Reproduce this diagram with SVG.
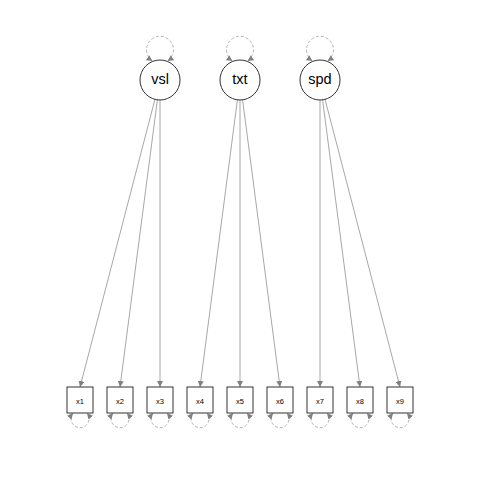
<svg xmlns="http://www.w3.org/2000/svg" width="480" height="480" viewBox="0 0 480 480">
<style>
.lat circle{fill:#fff;stroke:#333;stroke-width:1}
.man rect{fill:#fff;stroke:#333;stroke-width:1}
.lt{font-family:"Liberation Sans",Arial,sans-serif;font-size:14.5px;fill:#000;text-anchor:middle}
.mt{font-family:"Liberation Sans",Arial,sans-serif;font-size:7.5px;fill:#000;text-anchor:middle}
.edge{stroke:#8a8a8a;stroke-width:0.75;fill:none;marker-end:url(#ah)}
.loop{stroke:#a0a0a0;stroke-width:0.8;fill:none;stroke-dasharray:3,2;marker-start:url(#ah);marker-end:url(#ah)}
</style>
<defs>
<marker id="ah" markerUnits="userSpaceOnUse" markerWidth="7" markerHeight="6" refX="6" refY="3" orient="auto-start-reverse" viewBox="0 0 7 6">
<path d="M0,0 L6,3 L0,6 z" fill="#808080"/>
</marker>
</defs>
<rect width="480" height="480" fill="#fff"/>
<g id="connectors">
<path class="edge" d="M154.96,99.35 L80,387"/>
<path class="edge" d="M157.42,99.83 L120,387"/>
<path class="edge" d="M160,100 L160,387"/>
<path class="edge" d="M237.42,99.83 L200,387"/>
<path class="edge" d="M240,100 L240,387"/>
<path class="edge" d="M242.58,99.83 L280,387"/>
<path class="edge" d="M320,100 L320,387"/>
<path class="edge" d="M322.58,99.83 L360,387"/>
<path class="edge" d="M325.04,99.35 L400,387"/>
<path class="loop" d="M152.5,61 A13.5,13.5 0 1 1 167.5,61"/>
<path class="loop" d="M232.5,61 A13.5,13.5 0 1 1 247.5,61"/>
<path class="loop" d="M312.5,61 A13.5,13.5 0 1 1 327.5,61"/>
<path class="loop" d="M73,413 A9,9 0 1 0 87,413"/>
<path class="loop" d="M113,413 A9,9 0 1 0 127,413"/>
<path class="loop" d="M153,413 A9,9 0 1 0 167,413"/>
<path class="loop" d="M193,413 A9,9 0 1 0 207,413"/>
<path class="loop" d="M233,413 A9,9 0 1 0 247,413"/>
<path class="loop" d="M273,413 A9,9 0 1 0 287,413"/>
<path class="loop" d="M313,413 A9,9 0 1 0 327,413"/>
<path class="loop" d="M353,413 A9,9 0 1 0 367,413"/>
<path class="loop" d="M393,413 A9,9 0 1 0 407,413"/>
</g>
<g id="vsl" class="lat"><circle cx="160" cy="80" r="20"/><text class="lt" x="160" y="83.5">vsl</text></g>
<g id="txt" class="lat"><circle cx="240" cy="80" r="20"/><text class="lt" x="240" y="83.5">txt</text></g>
<g id="spd" class="lat"><circle cx="320" cy="80" r="20"/><text class="lt" x="320" y="83.5">spd</text></g>
<g id="x1" class="man"><rect x="67" y="387" width="26" height="26"/><text class="mt" x="80" y="403.5">x1</text></g>
<g id="x2" class="man"><rect x="107" y="387" width="26" height="26"/><text class="mt" x="120" y="403.5">x2</text></g>
<g id="x3" class="man"><rect x="147" y="387" width="26" height="26"/><text class="mt" x="160" y="403.5">x3</text></g>
<g id="x4" class="man"><rect x="187" y="387" width="26" height="26"/><text class="mt" x="200" y="403.5">x4</text></g>
<g id="x5" class="man"><rect x="227" y="387" width="26" height="26"/><text class="mt" x="240" y="403.5">x5</text></g>
<g id="x6" class="man"><rect x="267" y="387" width="26" height="26"/><text class="mt" x="280" y="403.5">x6</text></g>
<g id="x7" class="man"><rect x="307" y="387" width="26" height="26"/><text class="mt" x="320" y="403.5">x7</text></g>
<g id="x8" class="man"><rect x="347" y="387" width="26" height="26"/><text class="mt" x="360" y="403.5">x8</text></g>
<g id="x9" class="man"><rect x="387" y="387" width="26" height="26"/><text class="mt" x="400" y="403.5">x9</text></g>
</svg>
